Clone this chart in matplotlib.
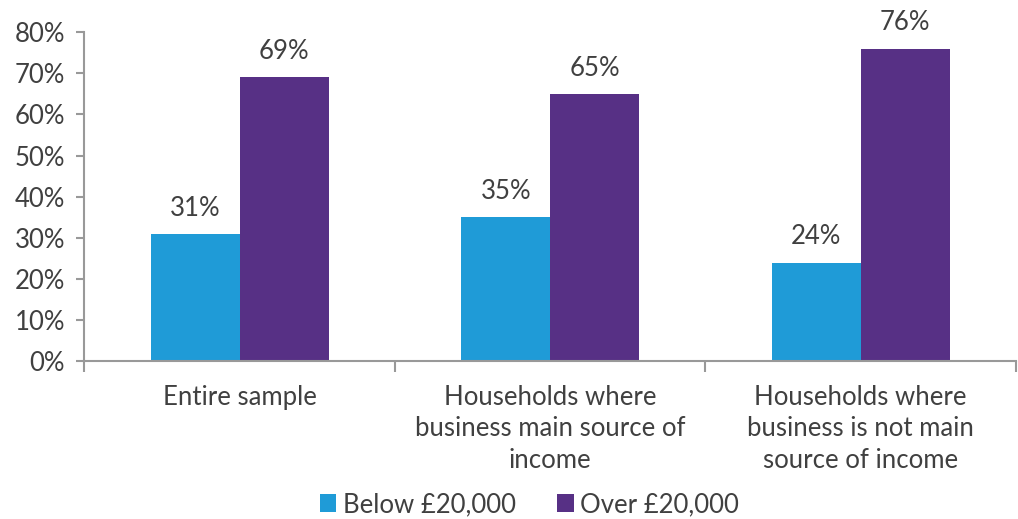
import numpy as np
from matplotlib import pyplot as plt
from matplotlib.ticker import PercentFormatter, FixedLocator

categories = ['Entire sample',
              'Households where\nbusiness main source of\nincome',
              'Households where\nbusiness is not main\nsource of income']
below = [31, 35, 24]
over = [69, 65, 76]
series_names = ['Below £20,000', 'Over £20,000']

BLUE = '#1f9bd7'
PURPLE = '#573085'
TEXT = '#404040'
AXIS = '#999999'
FS = 18.5


def generate_chart():
    plt.rcParams['font.family'] = ['Lato', 'DejaVu Sans']
    fig = plt.figure(figsize=(10.18, 5.19), dpi=100)
    ax = fig.add_axes([0.083, 0.304, 0.915, 0.634])

    ind = np.arange(len(categories))
    width = 0.286
    b1 = ax.bar(ind - width / 2, below, width=width, color=BLUE, label=series_names[0])
    b2 = ax.bar(ind + width / 2, over, width=width, color=PURPLE, label=series_names[1])

    for bars in (b1, b2):
        for r in bars:
            ax.text(r.get_x() + r.get_width() / 2, r.get_height() + 3.2,
                    '%d%%' % r.get_height(), ha='center', va='bottom',
                    fontsize=FS, color=TEXT)

    ax.set_xlim(-0.5, len(categories) - 0.5)
    ax.set_ylim(0, 80)
    ax.set_yticks(range(0, 81, 10))
    ax.yaxis.set_major_formatter(PercentFormatter(decimals=0))

    ax.set_xticks(ind)
    ax.set_xticklabels(categories, fontsize=FS, color=TEXT, linespacing=1.32)
    ax.xaxis.set_minor_locator(FixedLocator(np.arange(-0.5, len(categories), 1.0)))
    ax.tick_params(axis='x', which='major', length=0, pad=17)
    ax.tick_params(axis='x', which='minor', length=8, width=1.5, color=AXIS)
    ax.tick_params(axis='y', labelsize=FS, labelcolor=TEXT, length=6, width=1.5,
                   color=AXIS, pad=8)

    for s in ('top', 'right'):
        ax.spines[s].set_visible(False)
    for s in ('left', 'bottom'):
        ax.spines[s].set_color(AXIS)
        ax.spines[s].set_linewidth(1.5)

    leg = fig.legend(loc='center', bbox_to_anchor=(0.52, 0.028), ncol=2,
                     frameon=False, fontsize=FS, handlelength=0.65, handleheight=0.65,
                     handletextpad=0.25, columnspacing=1.6, borderpad=0.1)
    for t in leg.get_texts():
        t.set_color(TEXT)

    fig.savefig('out.png', dpi=100)


def main():
    generate_chart()


if __name__ == '__main__': main()
